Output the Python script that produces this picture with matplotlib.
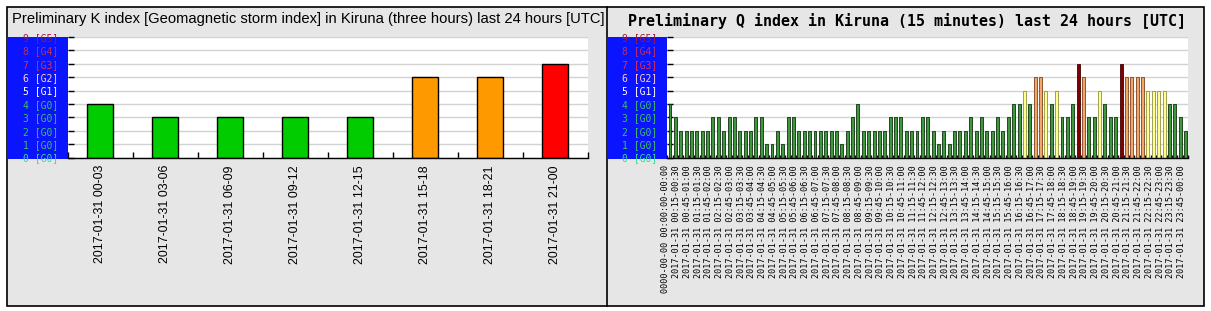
#!/usr/bin/env python

import datetime as dt
from matplotlib import pyplot as plt
from matplotlib.patches import Rectangle
from matplotlib.lines import Line2D
from matplotlib.transforms import ScaledTranslation

# Data: K index, three hour bins
k_labels = ['2017-01-31 00-03', '2017-01-31 03-06', '2017-01-31 06-09', '2017-01-31 09-12',
            '2017-01-31 12-15', '2017-01-31 15-18', '2017-01-31 18-21', '2017-01-31 21-00']
k_values = [4, 3, 3, 3, 3, 6, 6, 7]

# Data: Q index, 15 minute bins (first bin is an empty placeholder slot)
q_values = [4, 3, 2, 2, 2, 2, 2, 2, 3, 3, 2, 3, 3, 2, 2, 2, 3, 3, 1, 1, 2, 1, 3, 3, 2,
            2, 2, 2, 2, 2, 2, 2, 1, 2, 3, 4, 2, 2, 2, 2, 2, 3, 3, 3, 2, 2, 2, 3, 3,
            2, 1, 2, 1, 2, 2, 2, 3, 2, 3, 2, 2, 3, 2, 3, 4, 4, 5, 4, 6, 6, 5, 4, 5,
            3, 3, 4, 7, 6, 3, 3, 5, 4, 3, 3, 7, 6, 6, 6, 6, 5, 5, 5, 5, 4, 4, 3, 2]

t0 = dt.datetime(2017, 1, 31)
q_labels = ['0000-00-00 00:00:00-00:00'] + [
    (t0 + dt.timedelta(minutes=15 * (i - 1))).strftime('%Y-%m-%d %H:%M') + '-'
    + (t0 + dt.timedelta(minutes=15 * i)).strftime('%H:%M')
    for i in range(1, len(q_values))]

y_labels = ['0 [G0]', '1 [G0]', '2 [G0]', '3 [G0]', '4 [G0]',
            '5 [G1]', '6 [G2]', '7 [G3]', '8 [G4]', '9 [G5]']
y_label_colors = ['#30e090', '#40c060', '#40c060', '#40c060', '#40c060',
                  '#ffffff', '#ffd0d0', '#e03050', '#c03060', '#a01840']

# Plot config
W, H = 1211, 311
bg = '#e6e6e6'
grid_color = '#d2d2d2'


def k_color(v):
    if v >= 7:
        return '#ff0000'
    if v >= 5:
        return '#ff9900'
    return '#00cc00'


def q_color(v):
    if v >= 7:
        return ('#800000', '#400000')
    if v == 6:
        return ('#f0a868', '#804020')
    if v == 5:
        return ('#ffff90', '#909040')
    return ('#3c9a3c', '#103010')


def fx(x):
    return x / W


def fy(y):
    return 1 - y / H


fig = plt.figure(figsize=(W / 100, H / 100), dpi=100, facecolor='white')

# Panel backgrounds, frames and blue label strips
fig.add_artist(Rectangle((fx(7), fy(306)), fx(1204) - fx(7), fy(7) - fy(306),
                         transform=fig.transFigure, facecolor=bg, edgecolor='black',
                         linewidth=1.2, zorder=-2))
fig.add_artist(Line2D([fx(607), fx(607)], [fy(7), fy(306)], transform=fig.transFigure,
                      color='black', linewidth=1.2, zorder=-1))
for x0 in (7, 607):
    fig.add_artist(Rectangle((fx(x0), fy(159)), fx(61), fy(36.7) - fy(159),
                             transform=fig.transFigure, facecolor='#0a14ff',
                             edgecolor='none', zorder=-1))

ax_top, ax_bot = 37, 157.5


def style_axis(ax):
    ax.set_facecolor('white')
    ax.set_ylim(0, 9)
    for s in ('top', 'right', 'left'):
        ax.spines[s].set_visible(False)
    ax.spines['bottom'].set_color('black')
    ax.spines['bottom'].set_linewidth(1)
    ax.set_axisbelow(True)
    ax.grid(axis='y', color=grid_color, linewidth=1)
    ax.set_yticks(range(10))
    ax.set_yticklabels(y_labels, family='DejaVu Sans Mono', fontsize=7)
    for lab, c in zip(ax.get_yticklabels(), y_label_colors):
        lab.set_color(c)
    ax.tick_params(axis='y', direction='in', length=4, width=1, pad=7.2, color='black')


# Left: K index
ax1 = fig.add_axes([fx(68), fy(ax_bot), fx(587.7) - fx(68), fy(ax_top) - fy(ax_bot)])
style_axis(ax1)
xk = range(len(k_values))
ax1.bar(xk, k_values, width=0.4, color=[k_color(v) for v in k_values],
        edgecolor='black', linewidth=1)
ax1.set_xlim(-0.5, len(k_values) - 0.5)
ax1.set_xticks(list(xk))
ax1.set_xticklabels(k_labels, rotation=90, family='Liberation Sans', fontsize=8.9)
ax1.set_xticks([i - 0.5 for i in range(len(k_values) + 1)], minor=True)
ax1.tick_params(axis='x', which='major', length=0, pad=5.4)
ax1.tick_params(axis='x', which='minor', direction='in', length=4, width=1, color='black')
fig.text(fx(308), fy(19.5),
         'Preliminary K index [Geomagnetic storm index] in Kiruna (three hours) last 24 hours [UTC]',
         ha='center', va='center', family='Liberation Sans', fontsize=10.65)

# Right: Q index
ax2 = fig.add_axes([fx(667.3), fy(ax_bot), fx(1188.2) - fx(667.3), fy(ax_top) - fy(ax_bot)])
style_axis(ax2)
xq = range(len(q_values))
cols = [q_color(v) for v in q_values]
ax2.bar(xq, q_values, width=0.55, color=[c[0] for c in cols],
        edgecolor=[c[1] for c in cols], linewidth=0.6)
ax2.set_xlim(-0.5, len(q_values) - 0.5)
ax2.set_xticks(list(xq)[::2])
ax2.set_xticklabels(q_labels[::2], rotation=90, family='DejaVu Sans Mono', fontsize=6.1)
ax2.set_xticks([i - 0.5 for i in range(len(q_values) + 1)], minor=True)
ax2.tick_params(axis='x', which='major', length=0, pad=5.4)
ax2.tick_params(axis='x', which='minor', direction='in', length=2.5, width=1, color='black')
shift = ScaledTranslation(-4 / 100, 0, fig.dpi_scale_trans)
for lab in ax2.get_xticklabels():
    lab.set_transform(lab.get_transform() + shift)
fig.text(fx(907), fy(21),
         'Preliminary Q index in Kiruna (15 minutes) last 24 hours [UTC]',
         ha='center', va='center', family='DejaVu Sans Mono', fontweight='bold',
         fontsize=10.8)

fig.savefig('out.png', dpi=100, facecolor='white')
